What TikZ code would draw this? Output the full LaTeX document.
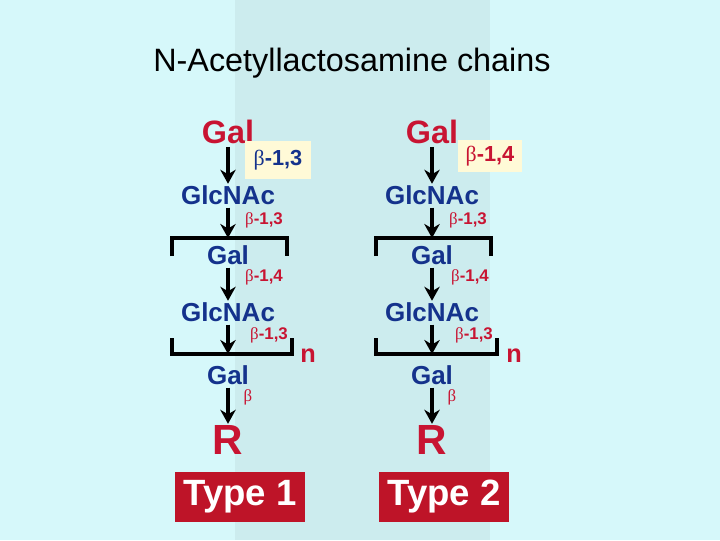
\documentclass[tikz,border=0pt]{standalone}
\usepackage{fontspec}
\setmainfont{Liberation Sans}
\newfontfamily\grk{Liberation Serif}
\usetikzlibrary{arrows.meta}
\definecolor{bgcyan}{RGB}{214,248,250}
\definecolor{bandcyan}{RGB}{204,236,238}
\definecolor{sugred}{RGB}{200,20,50}
\definecolor{sugblue}{RGB}{20,50,140}
\definecolor{boxred}{RGB}{190,20,40}
\definecolor{boxyel}{RGB}{255,250,215}
\newcommand{\bt}{{\grk\mdseries β}}
\begin{document}
\begin{tikzpicture}[x=0.025cm,y=-0.025cm,
    big/.style={font={\bfseries\fontsize{23}{23}\selectfont}, text=sugred, inner sep=1pt},
    sug/.style={font={\bfseries\fontsize{18.5}{19}\selectfont}, text=sugblue, inner sep=1pt},
    lnk/.style={font={\bfseries\fontsize{12}{12}\selectfont}, text=sugred, inner sep=1pt},
    bond/.style={line width=2.8pt, -{Stealth[length=10pt,width=11pt]}, shorten <=1pt},
    brk/.style={line width=2.8pt},
    typebox/.style={fill=boxred, text=white, minimum width=3.25cm, minimum height=1.25cm,
        font={\bfseries\fontsize{26}{26}\selectfont}}]
    \fill[bgcyan] (0,0) rectangle (720,540);
    \fill[bandcyan] (235,0) rectangle (490,540);
    \node[font={\fontsize{23}{23}\selectfont}] (title) at (352,63) {N-Acetyllactosamine chains};

    % Type 1
    \node[big] (galA) at (228,132) {Gal};
    \node[fill=boxyel, minimum width=1.65cm, minimum height=0.95cm,
        font={\bfseries\fontsize{15.5}{16}\selectfont}, text=sugblue] (linkA) at (278,160) {\bt-1,3};
    \node[sug] (glcA1) at (228,195) {GlcNAc};
    \node[lnk] (lA1) at (264,220) {\bt-1,3};
    \node[sug] (galA1) at (228,255) {Gal};
    \node[lnk] (lA2) at (264,277) {\bt-1,4};
    \node[sug] (glcA2) at (228,312) {GlcNAc};
    \node[lnk] (lA3) at (269,335) {\bt-1,3};
    \node[sug] (galA2) at (228,375) {Gal};
    \node[lnk] (lA4) at (248,397) {\bt};
    \node[big, font={\bfseries\fontsize{30}{30}\selectfont}] (rA) at (228,440) {R};
    \node[typebox] (typeA) at (240,497) {Type 1};
    \node[big, font={\bfseries\fontsize{18}{18}\selectfont}] (nA) at (308,356) {n};
    \coordinate (brA1) at (228,238);
    \coordinate (brA2) at (228,354);
    \draw[bond] (galA) -- (glcA1);
    \draw[bond] (glcA1) -- (brA1);
    \draw[bond] (galA1) -- (glcA2);
    \draw[bond] (glcA2) -- (brA2);
    \draw[bond] (galA2) -- (rA);
    \draw[brk] (172,256) -- (172,238) -- (287,238) -- (287,256);
    \draw[brk] (172,338) -- (172,354) -- (292,354) -- (292,338);

    % Type 2
    \node[big] (galB) at (432,132) {Gal};
    \node[fill=boxyel, minimum width=1.6cm, minimum height=0.8cm,
        font={\bfseries\fontsize{15.5}{16}\selectfont}, text=sugred] (linkB) at (490,156) {\bt-1,4};
    \node[sug] (glcB1) at (432,195) {GlcNAc};
    \node[lnk] (lB1) at (468,220) {\bt-1,3};
    \node[sug] (galB1) at (432,255) {Gal};
    \node[lnk] (lB2) at (470,277) {\bt-1,4};
    \node[sug] (glcB2) at (432,312) {GlcNAc};
    \node[lnk] (lB3) at (474,335) {\bt-1,3};
    \node[sug] (galB2) at (432,375) {Gal};
    \node[lnk] (lB4) at (452,397) {\bt};
    \node[big, font={\bfseries\fontsize{30}{30}\selectfont}] (rB) at (432,440) {R};
    \node[typebox] (typeB) at (444,497) {Type 2};
    \node[big, font={\bfseries\fontsize{18}{18}\selectfont}] (nB) at (514,356) {n};
    \coordinate (brB1) at (432,238);
    \coordinate (brB2) at (432,354);
    \draw[bond] (galB) -- (glcB1);
    \draw[bond] (glcB1) -- (brB1);
    \draw[bond] (galB1) -- (glcB2);
    \draw[bond] (glcB2) -- (brB2);
    \draw[bond] (galB2) -- (rB);
    \draw[brk] (376,256) -- (376,238) -- (491,238) -- (491,256);
    \draw[brk] (376,338) -- (376,354) -- (497,354) -- (497,338);
\end{tikzpicture}
\end{document}
